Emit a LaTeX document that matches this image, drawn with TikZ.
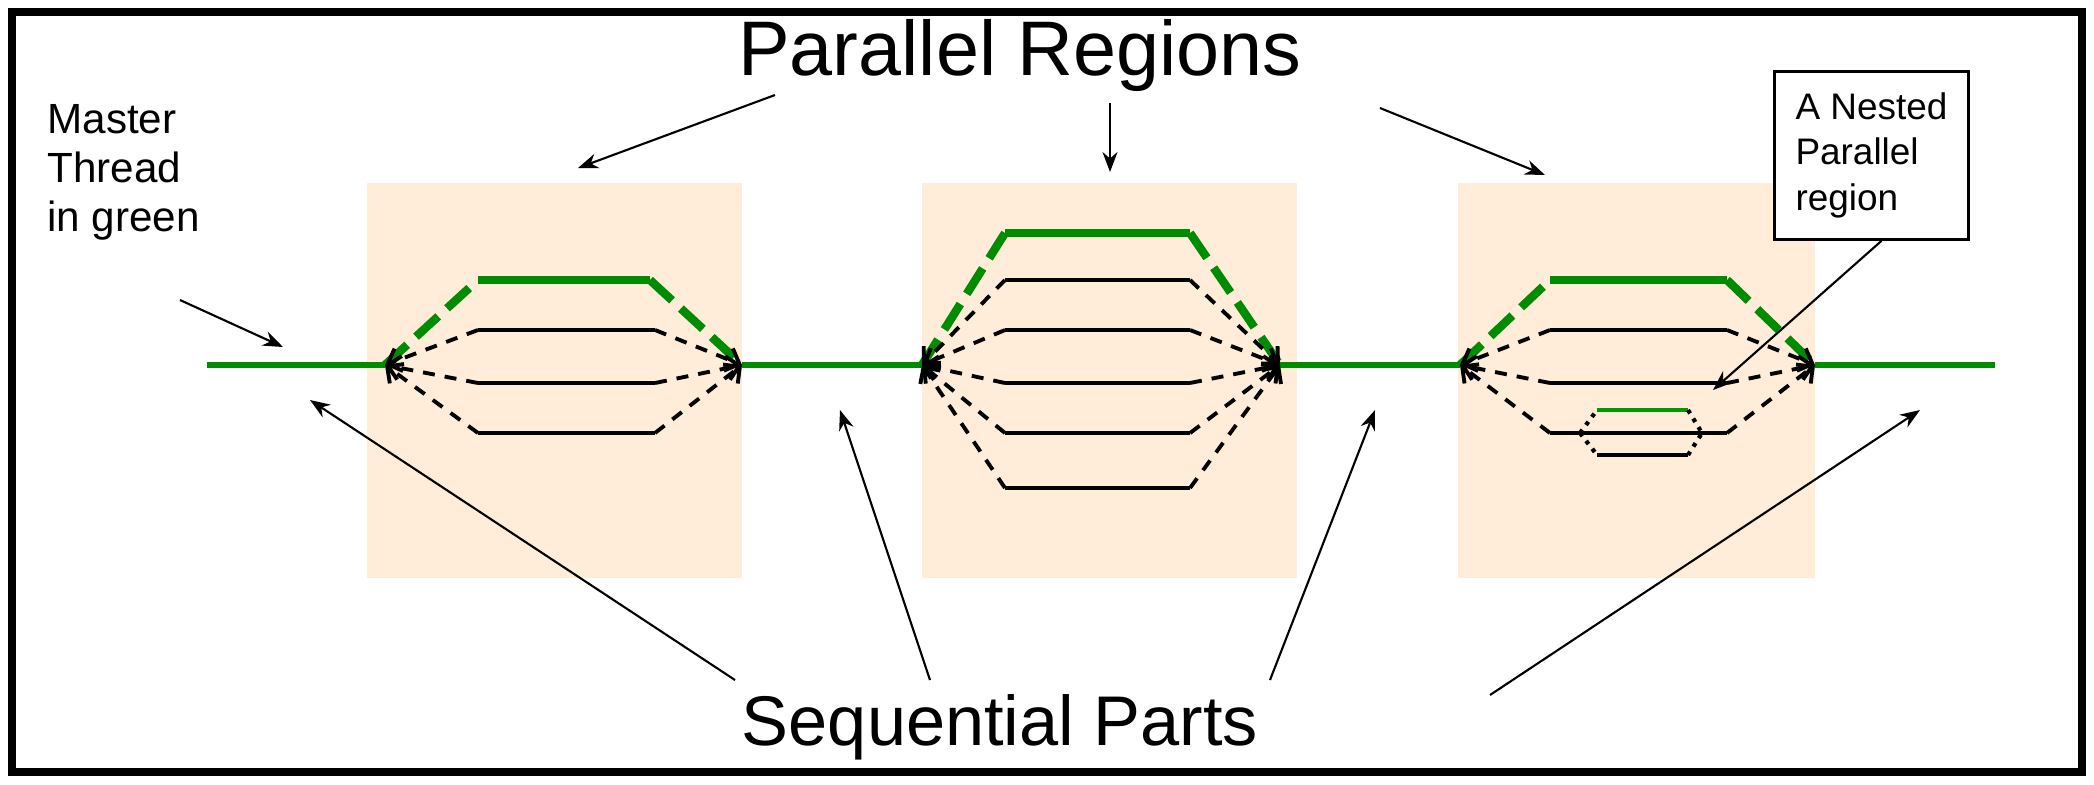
\documentclass[tikz,border=0pt]{standalone}
\usepackage{fontspec}
\setmainfont{Liberation Sans}
\usetikzlibrary{arrows.meta}
\tikzset{
	region/.style={fill=orange!15,draw=none},
	seq/.style={green!55!black,line width=1.8pt},
	mastr/.style={green!55!black,line width=2.4pt},
	mdash/.style={mastr,dash pattern=on 0.3cm off 0.12cm},
	thr/.style={black,line width=1.1pt},
	tdash/.style={thr,dash pattern=on 0.12cm off 0.1cm,-{Straight Barb[length=1.2mm]}},
	lbl/.style={->,>={Stealth[length=2mm]},line width=0.6pt},
	txt/.style={font=\fontsize{12}{14}\selectfont,align=left}
}
\begin{document}
\begin{tikzpicture}[x=0.01cm,y=-0.01cm]
		\useasboundingbox (0,0) rectangle (2094,784);
		\draw[line width=2.2pt] (12,12) rectangle (2082,772);
		% parallel region boxes
		\fill[region] (367,183) rectangle (742,578);
		\fill[region] (922,183) rectangle (1297,578);
		\fill[region] (1458,183) rectangle (1815,578);
		% fork and join points
		\coordinate (s0) at (207,365);
		\coordinate (f1) at (385,365); \coordinate (j1) at (742,365);
		\coordinate (f2) at (922,365); \coordinate (j2) at (1280,365);
		\coordinate (f3) at (1460,365); \coordinate (j3) at (1815,365);
		\coordinate (s4) at (1995,365);
		% sequential parts
		\draw[seq] (s0) -- (f1);
		\draw[seq] (j1) -- (f2);
		\draw[seq] (j2) -- (f3);
		\draw[seq] (j3) -- (s4);
		% region 1
		\draw[mdash] (f1) -- (478,280);
		\draw[mastr] (478,280) -- (650,280);
		\draw[mdash] (650,280) -- (j1);
		\foreach \y in {330,383,433}
		{
			\draw[tdash] (478,\y) -- (f1);
			\draw[thr] (478,\y) -- (655,\y);
			\draw[tdash] (655,\y) -- (j1);
		}
		% region 2
		\draw[mdash] (f2) -- (1005,233);
		\draw[mastr] (1005,233) -- (1190,233);
		\draw[mdash] (1190,233) -- (j2);
		\foreach \y in {280,330,383,433,488}
		{
			\draw[tdash] (1005,\y) -- (f2);
			\draw[thr] (1005,\y) -- (1190,\y);
			\draw[tdash] (1190,\y) -- (j2);
		}
		% region 3
		\draw[mdash] (f3) -- (1550,280);
		\draw[mastr] (1550,280) -- (1727,280);
		\draw[mdash] (1727,280) -- (j3);
		\foreach \y in {330,383,433}
		{
			\draw[tdash] (1550,\y) -- (f3);
			\draw[thr] (1550,\y) -- (1727,\y);
			\draw[tdash] (1727,\y) -- (j3);
		}
		% nested region
		\coordinate (nf) at (1580,433); \coordinate (nj) at (1702,433);
		\draw[green!60!black,line width=1.2pt] (1597,410) -- (1688,410);
		\draw[thr,line width=1.2pt] (1597,455) -- (1688,455);
		\foreach \y in {410,455}
		{
			\draw[thr,line width=1.2pt,dash pattern=on 0.04cm off 0.06cm] (nf) -- (1597,\y);
			\draw[thr,line width=1.2pt,dash pattern=on 0.04cm off 0.06cm] (1688,\y) -- (nj);
		}
		% labels
		\node[font=\fontsize{22}{26}\selectfont] (par) at (1020,55) {Parallel Regions};
		\node[font=\fontsize{20}{24}\selectfont] (sq) at (1000,727) {Sequential Parts};
		\node[txt,anchor=north west] (mt) at (35,92) {Master\\Thread\\in green};
		\node[txt,font=\fontsize{10.5}{13}\selectfont,draw,line width=0.8pt,fill=white,anchor=north west,inner sep=6pt] (nest) at (1773,70) {A Nested\\Parallel\\region};
		\coordinate (p1) at (578,168); \coordinate (p2) at (1110,172); \coordinate (p3) at (1545,175);
		\draw[lbl] (775,95) -- (p1);
		\draw[lbl] (1110,103) -- (p2);
		\draw[lbl] (1380,108) -- (p3);
		\coordinate (m1) at (283,347);
		\draw[lbl] (180,300) -- (m1);
		\coordinate (n1) at (1713,390);
		\draw[lbl] (nest.south) ++(10,0) -- (n1);
		\coordinate (q1) at (310,400); \coordinate (q2) at (840,410);
		\coordinate (q3) at (1375,410); \coordinate (q4) at (1920,410);
		\draw[lbl] (735,680) -- (q1);
		\draw[lbl] (930,680) -- (q2);
		\draw[lbl] (1270,680) -- (q3);
		\draw[lbl] (1490,695) -- (q4);
\end{tikzpicture}
\end{document}
